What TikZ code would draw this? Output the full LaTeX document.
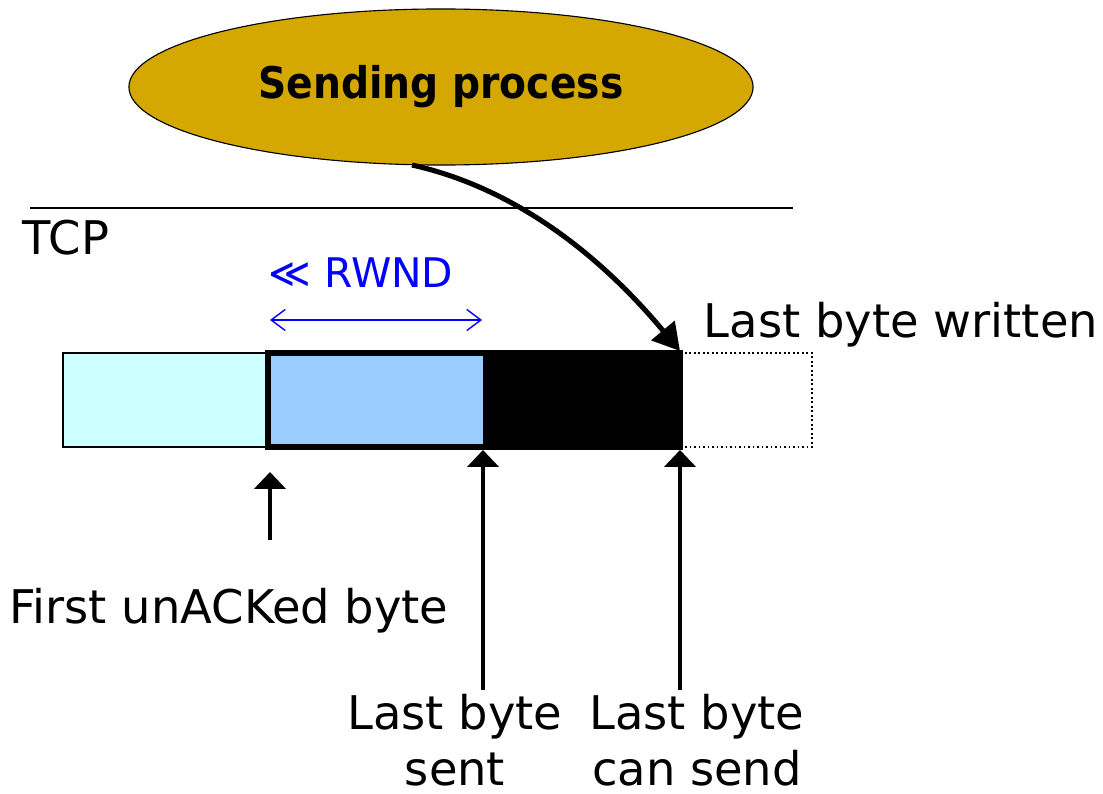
\documentclass[tikz,border=0pt]{standalone}
\usepackage{fontspec}
\setmainfont{DejaVu Sans}
\newfontfamily\procfont{DejaVu Sans Condensed}
\usetikzlibrary{arrows.meta,shapes.geometric}
\definecolor{procgold}{RGB}{212,168,0}
\definecolor{ackedcyan}{RGB}{204,255,255}
\definecolor{inflight}{RGB}{153,204,255}
\definecolor{rwndblue}{RGB}{0,0,255}
\tikzset{
  lbl/.style={inner sep=0pt, font=\fontsize{33}{40}\selectfont, align=center},
  ptr/.style={line width=3pt, -{Triangle[length=12pt,width=22pt]}},
  bigptr/.style={line width=3.6pt, -{Triangle[length=19pt,width=21pt]}},
  span/.style={rwndblue, line width=1pt, {Straight Barb[length=10pt,width=15pt]}-{Straight Barb[length=10pt,width=15pt]}},
}
\begin{document}
\begin{tikzpicture}[x=0.025cm,y=-0.025cm]
\useasboundingbox (0,0) rectangle (1103,794);

% application process above the socket layer
\node[ellipse, draw, line width=0.8pt, fill=procgold, inner sep=0pt,
      minimum width=15.6cm, minimum height=3.9cm,
      font=\fontsize{31}{36}\selectfont\procfont\bfseries] (proc) at (441,87)
      {\raisebox{4pt}{Sending process}};

% layer boundary
\coordinate (layL) at (30,208);
\coordinate (layR) at (793,208);
\draw[line width=1.2pt] (layL) -- (layR);
\node[lbl] (tcp) at (66,238) {TCP};

% send buffer
\draw[line width=1.2pt, dotted] (680,353) rectangle (812,447);
\filldraw[fill=ackedcyan, draw=black, line width=0.8pt] (63,353) rectangle (268,447);
\filldraw[fill=inflight, draw=gray, line width=0.6pt] (268,353) rectangle (483,447);
\fill[black] (483,353) rectangle (680,447);
\draw[line width=4.3pt] (268,353) rectangle (680,447);

% advertised window
\coordinate (rwL) at (270,320);
\coordinate (rwR) at (482,320);
\draw[span] (rwL) -- (rwR);
\node[lbl, font=\fontsize{29}{36}\selectfont, text=rwndblue] (rwnd) at (361,273) {≪ RWND};

% write pointer
\coordinate (wrSrc) at (412,165);
\coordinate (wrDst) at (680,351);
\draw[bigptr] (wrSrc) .. controls (515,188) and (600,255) .. (wrDst);
\node[lbl] (written) at (901,325) {Last byte written};

% buffer pointers
\node[lbl] (unacked) at (229,611) {First unACKed byte};
\node[lbl] (sent) at (455,740) {Last byte\\sent};
\node[lbl] (cansend) at (697,740) {Last byte\\can send};

\coordinate (uaTail) at (270,540);
\coordinate (uaHead) at (270,472);
\coordinate (snTail) at (483,690);
\coordinate (snHead) at (483,450);
\coordinate (csTail) at (680,690);
\coordinate (csHead) at (680,450);
\draw[ptr] (uaTail) -- (uaHead);
\draw[ptr] (snTail) -- (snHead);
\draw[ptr] (csTail) -- (csHead);
\end{tikzpicture}
\end{document}
